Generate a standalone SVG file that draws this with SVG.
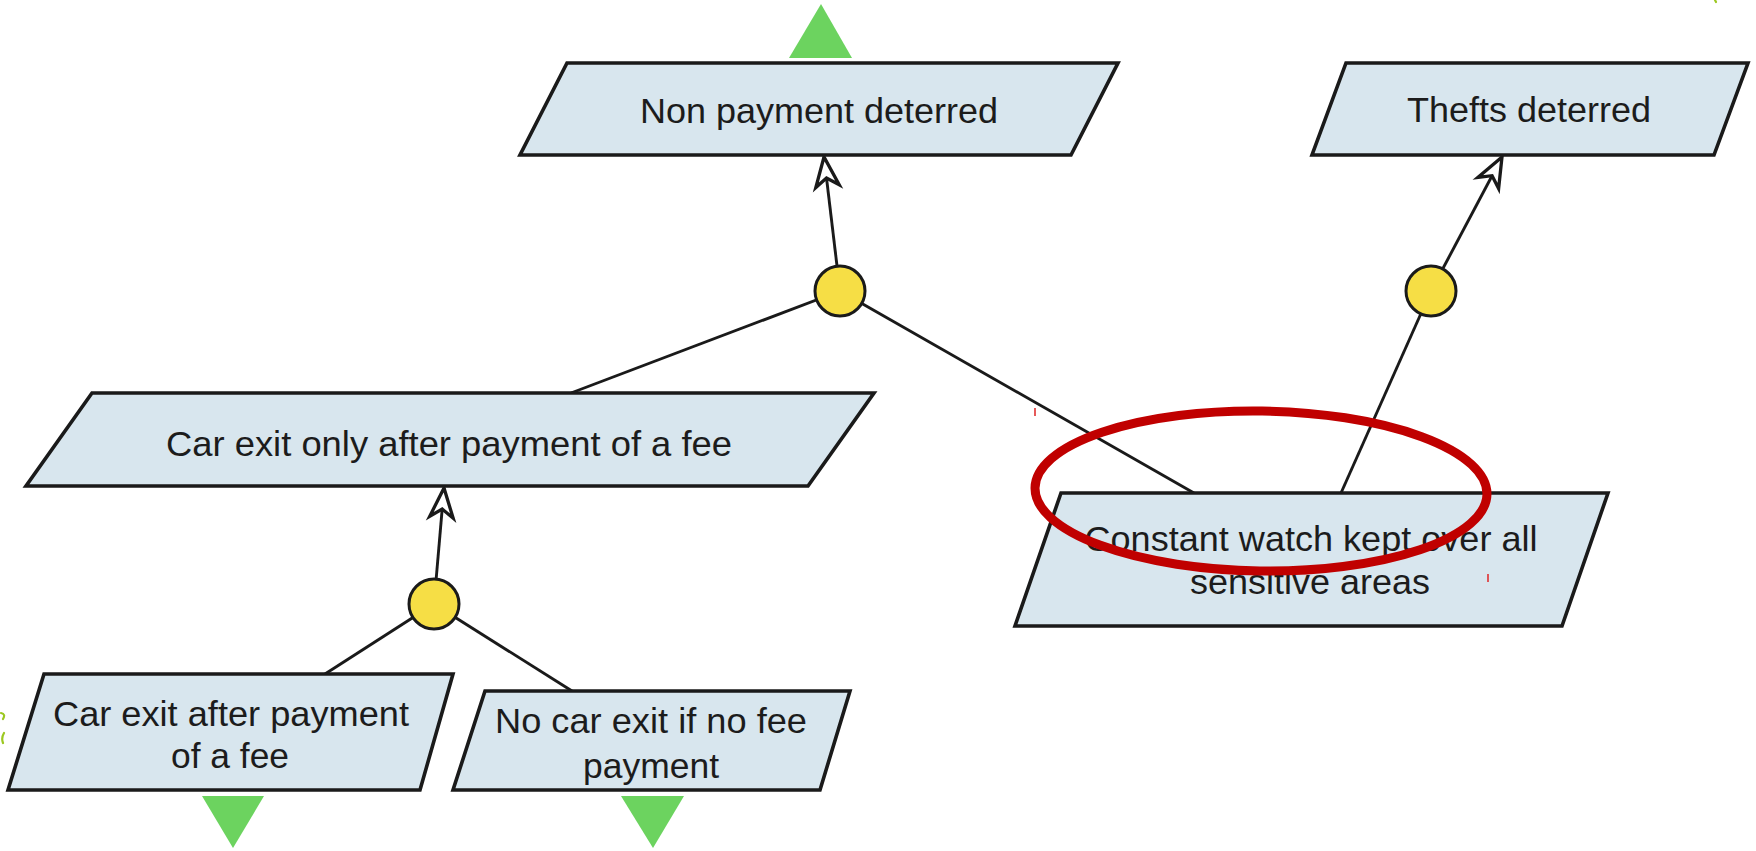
<svg xmlns="http://www.w3.org/2000/svg" width="1756" height="851" viewBox="0 0 1756 851">
  <style>
    .box { fill: #d8e6ee; stroke: #1a1a1a; stroke-width: 3.6; stroke-linejoin: miter; }
    .lbl { font-family: "Liberation Sans", Arial, sans-serif; font-size: 35px; fill: #1c1c1c; text-anchor: middle; }
    .edge { fill: none; stroke: #1a1a1a; stroke-width: 2.9; }
    .gate { fill: #f6de45; stroke: #1a1a1a; stroke-width: 3; }
    .tri { fill: #6cd35f; }
    .tick { stroke: #e03030; stroke-width: 1.6; }
  </style>
  <defs>
    <marker id="openArrow" markerUnits="userSpaceOnUse" markerWidth="40" markerHeight="40" refX="0" refY="0" viewBox="-30 -15 34 30" orient="auto" overflow="visible">
      <path d="M0,0 L-25,-10 L-18,0 L-25,10 Z" fill="#ffffff" stroke="#1a1a1a" stroke-width="2.8" stroke-linejoin="miter"/>
    </marker>
    <filter id="soft" x="-10%" y="-10%" width="120%" height="120%">
      <feGaussianBlur stdDeviation="0.7"/>
    </filter>
    <clipPath id="clipNoCar">
      <rect x="440" y="690" width="420" height="97"/>
    </clipPath>
  </defs>

  <rect width="1756" height="851" fill="#ffffff"/>

  <!-- continuation markers -->
  <g id="continuations" filter="url(#soft)">
    <polygon class="tri" points="821,4 852,58 789,58"/>
    <polygon class="tri" points="202,796 264,796 233,848"/>
    <polygon class="tri" points="621,796 684,796 653,848"/>
  </g>

  <!-- stray marks at the edges -->
  <g id="edge-marks" fill="none" stroke="#9cc820" stroke-width="2.2" stroke-linecap="round">
    <path d="M1,713 Q6,714 3,719"/>
    <path d="M4,733 Q1,738 3,743"/>
    <path d="M1715,0 L1716,2"/>
  </g>

  <!-- connectors -->
  <g id="connectors">
    <path class="edge" d="M840,291 L824,157" marker-end="url(#openArrow)"/>
    <path class="edge" d="M840,291 L571,393"/>
    <path class="edge" d="M840,291 L1194,493"/>
    <path class="edge" d="M1431,291 L1502,157" marker-end="url(#openArrow)"/>
    <path class="edge" d="M1431,291 L1341,493"/>
    <path class="edge" d="M434,604 L444,488" marker-end="url(#openArrow)"/>
    <path class="edge" d="M434,604 L325,674"/>
    <path class="edge" d="M434,604 L572,691"/>
  </g>

  <!-- goals -->
  <g id="n-non-payment-deterred">
    <polygon class="box" points="567,63 1118,63 1071,155 520,155"/>
    <text class="lbl" x="819" y="123" textLength="358" lengthAdjust="spacingAndGlyphs">Non payment deterred</text>
  </g>

  <g id="n-thefts-deterred">
    <polygon class="box" points="1346,63 1748,63 1714,155 1312,155"/>
    <text class="lbl" x="1529" y="122" textLength="244" lengthAdjust="spacingAndGlyphs">Thefts deterred</text>
  </g>

  <g id="n-car-exit-only">
    <polygon class="box" points="92,393 874,393 808,486 26,486"/>
    <text class="lbl" x="449" y="456" textLength="566" lengthAdjust="spacingAndGlyphs">Car exit only after payment of a fee</text>
  </g>

  <g id="n-constant-watch">
    <polygon class="box" points="1061,493 1608,493 1562,626 1015,626"/>
    <text class="lbl" x="1311" y="551" textLength="453" lengthAdjust="spacingAndGlyphs">Constant watch kept over all</text>
    <text class="lbl" x="1310" y="594" textLength="240" lengthAdjust="spacingAndGlyphs">sensitive areas</text>
  </g>

  <g id="n-car-exit-after">
    <polygon class="box" points="44,674 453,674 420,790 8,790"/>
    <text class="lbl" x="231" y="726" textLength="356" lengthAdjust="spacingAndGlyphs">Car exit after payment</text>
    <text class="lbl" x="230" y="768" textLength="118" lengthAdjust="spacingAndGlyphs">of a fee</text>
  </g>

  <g id="n-no-car-exit">
    <polygon class="box" points="485,691 850,691 820,790 453,790"/>
    <text class="lbl" x="651" y="733" textLength="312" lengthAdjust="spacingAndGlyphs">No car exit if no fee</text>
    <text class="lbl" x="651" y="778" textLength="136" lengthAdjust="spacingAndGlyphs" clip-path="url(#clipNoCar)">payment</text>
  </g>

  <!-- AND refinement gates -->
  <g id="g-and-1"><circle class="gate" cx="840" cy="291" r="25"/></g>
  <g id="g-and-2"><circle class="gate" cx="1431" cy="291" r="25"/></g>
  <g id="g-and-3"><circle class="gate" cx="434" cy="604" r="25"/></g>

  <!-- highlight ring -->
  <g id="highlight">
    <ellipse cx="1261" cy="491" rx="226" ry="80" fill="none" stroke="#c00000" stroke-width="9" transform="rotate(0.8 1261 491)"/>
    <line class="tick" x1="1035" y1="408" x2="1035" y2="416"/>
    <line class="tick" x1="1488" y1="574" x2="1488" y2="582"/>
  </g>
</svg>
